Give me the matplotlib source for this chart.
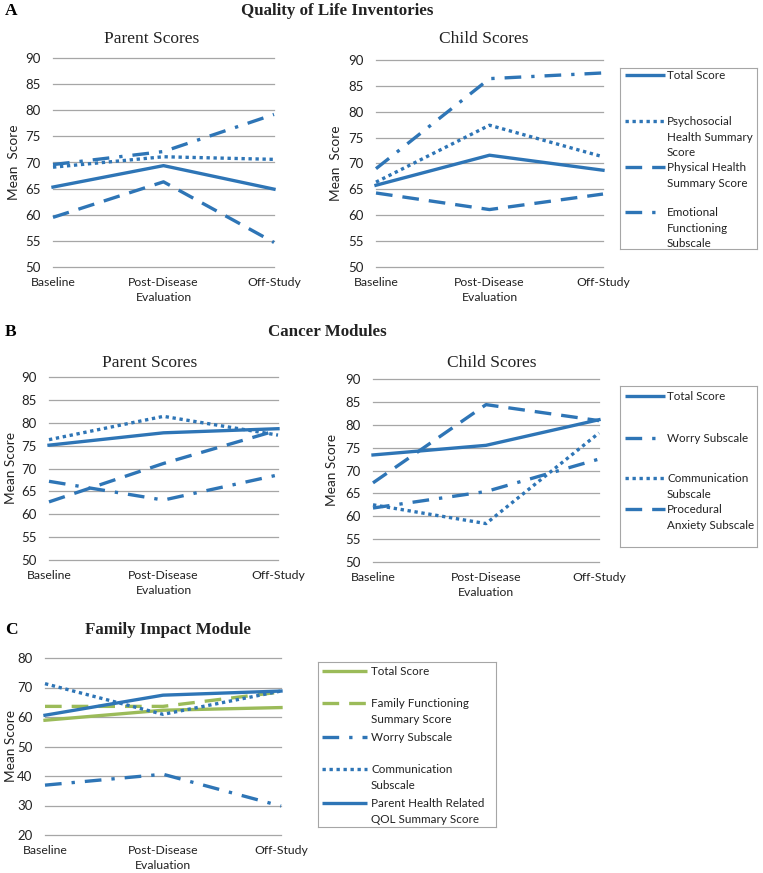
import matplotlib.pyplot as plt
import numpy as np

plt.rcParams['font.family'] = ['Lato', 'DejaVu Sans']

# categories along the x axis
categories = ['Baseline', 'Post-Disease\nEvaluation', 'Off-Study']

# A: Quality of Life Inventories
qol_parent_total = [65.3, 69.4, 64.9]
qol_parent_psychosocial = [69.1, 71.1, 70.6]
qol_parent_physical = [59.5, 66.3, 54.7]
qol_parent_emotional = [69.6, 72.1, 79.2]

qol_child_total = [65.8, 71.6, 68.7]
qol_child_psychosocial = [66.4, 77.4, 71.3]
qol_child_physical = [64.3, 61.1, 64.1]
qol_child_emotional = [69.0, 86.4, 87.5]

# B: Cancer Modules
cancer_parent_total = [75.1, 77.8, 78.7]
cancer_parent_worry = [67.2, 63.1, 68.6]
cancer_parent_communication = [76.3, 81.4, 77.3]
cancer_parent_procedural = [62.7, 71.1, 78.4]

cancer_child_total = [73.4, 75.5, 81.1]
cancer_child_worry = [61.8, 65.4, 72.5]
cancer_child_communication = [62.5, 58.4, 78.2]
cancer_child_procedural = [67.3, 84.4, 80.9]

# C: Family Impact Module
family_total = [58.9, 62.3, 63.2]
family_functioning = [63.6, 63.6, 68.5]
family_worry = [36.9, 40.6, 29.8]
family_communication = [71.3, 60.9, 68.8]
family_parent_hrqol = [60.6, 67.4, 68.8]

BLUE = '#2E75B6'
GREEN = '#9BBB59'
GRID = '#A6A6A6'
TXT = '#222222'
LW = 2.4

STYLES = {
    'solid': dict(linestyle='-'),
    'dot': dict(linestyle=(0, (1, 1.1))),
    'dash': dict(linestyle=(0, (5, 3))),
    'dashdot': dict(linestyle=(0, (5, 3, 1, 3))),
}

W, H = 763, 873
fig = plt.figure(figsize=(W / 100, H / 100), dpi=100)


def fx(x):
    return x / W


def fy(y):
    return 1 - y / H


def px_axes(x0, y0, x1, y1):
    return fig.add_axes([fx(x0), fy(y1), (x1 - x0) / W, (y1 - y0) / H])


def chart(box, yticks, ylabel, label_x):
    x0, y0, x1, y1 = box
    ax = px_axes(x0, y0, x1, y1)
    x = np.arange(len(categories))
    ax.set_xlim(x[0], x[-1])
    ax.set_ylim(yticks[0], yticks[-1])
    ax.set_yticks(yticks)
    ax.set_xticks(x)
    ax.set_xticklabels(categories, fontsize=8.8, color=TXT, linespacing=1.45)
    ax.tick_params(axis='y', length=0, pad=9, labelsize=9.5, labelcolor=TXT)
    ax.tick_params(axis='x', length=0, pad=7)
    for s in ax.spines.values():
        s.set_visible(False)
    ax.yaxis.grid(True, color=GRID, linewidth=0.9)
    ax.set_axisbelow(True)
    for gl in ax.get_ygridlines():
        gl.set_clip_on(False)
    ax.set_ylabel(ylabel, fontsize=9.8, color=TXT)
    ax.yaxis.set_label_coords((label_x + 7 - x0) / (x1 - x0), 0.5)
    return ax


def series(ax, values, style, color=BLUE):
    ax.plot(np.arange(len(values)), values, color=color, linewidth=LW,
            clip_on=False, **STYLES[style])


def legend_box(x0, y0, x1, y1, entries, hx0, hx1, tx, pitch):
    lg = px_axes(x0, y0, x1, y1)
    lg.set_xlim(0, x1 - x0)
    lg.set_ylim(y1 - y0, 0)
    lg.set_xticks([])
    lg.set_yticks([])
    for s in lg.spines.values():
        s.set_color('#A6A6A6')
        s.set_linewidth(0.8)
    for label, style, color, yc in entries:
        lg.plot([hx0, hx1], [yc, yc], color=color, linewidth=LW,
                solid_capstyle='butt', **STYLES[style])
        for i, line in enumerate(label.split('\n')):
            lg.text(tx, yc + i * pitch + 4.3, line, fontsize=8.4, va='baseline',
                    ha='left', color=TXT)


def title(x, y, s, bold=False, size=12.5):
    fig.text(fx(x), fy(y), s, fontsize=size, family='Liberation Serif',
             fontweight='bold' if bold else 'normal', ha='center', va='center', color=TXT)


yt = np.arange(50, 91, 5)

# ---- Panel A ----
fig.text(fx(5), fy(11), 'A', fontsize=12.5, fontweight='bold', family='Liberation Serif', va='center')
title(337, 11, 'Quality of Life Inventories', bold=True, size=12.2)

ax = chart((53, 58, 274, 267), yt, 'Mean  Score', 13)
series(ax, qol_parent_total, 'solid')
series(ax, qol_parent_psychosocial, 'dot')
series(ax, qol_parent_physical, 'dash')
series(ax, qol_parent_emotional, 'dashdot')
title(152, 39, 'Parent Scores')

ax = chart((376, 60, 603, 267), yt, 'Mean  Score', 335)
series(ax, qol_child_total, 'solid')
series(ax, qol_child_psychosocial, 'dot')
series(ax, qol_child_physical, 'dash')
series(ax, qol_child_emotional, 'dashdot')
title(484, 39, 'Child Scores')

legend_box(620, 68, 757, 249, [
    ('Total Score', 'solid', BLUE, 7),
    ('Psychosocial\nHealth Summary\nScore', 'dot', BLUE, 53),
    ('Physical Health\nSummary Score', 'dash', BLUE, 99),
    ('Emotional\nFunctioning\nSubscale', 'dashdot', BLUE, 144),
], 5, 45, 47, 15.4)

# ---- Panel B ----
fig.text(fx(5), fy(332), 'B', fontsize=12.5, fontweight='bold', family='Liberation Serif', va='center')
title(327, 332, 'Cancer Modules', bold=True, size=12.2)

ax = chart((49, 377, 278, 560), yt, 'Mean Score', 10)
series(ax, cancer_parent_total, 'solid')
series(ax, cancer_parent_worry, 'dashdot')
series(ax, cancer_parent_communication, 'dot')
series(ax, cancer_parent_procedural, 'dash')
title(150, 363, 'Parent Scores')

ax = chart((373, 379, 599, 562), yt, 'Mean Score', 331)
series(ax, cancer_child_total, 'solid')
series(ax, cancer_child_worry, 'dashdot')
series(ax, cancer_child_communication, 'dot')
series(ax, cancer_child_procedural, 'dash')
title(492, 363, 'Child Scores')

legend_box(620, 386, 757, 547, [
    ('Total Score', 'solid', BLUE, 10),
    ('Worry Subscale', 'dashdot', BLUE, 52),
    ('Communication\nSubscale', 'dot', BLUE, 92),
    ('Procedural\nAnxiety Subscale', 'dash', BLUE, 123),
], 5, 45, 47, 15.5)

# ---- Panel C ----
fig.text(fx(5), fy(630), 'C', fontsize=12.5, fontweight='bold', family='Liberation Serif', va='center')
title(168, 630, 'Family Impact Module', bold=True, size=12.2)

ax = chart((45, 658, 281, 835), np.arange(20, 81, 10), 'Mean Score', 10)
series(ax, family_total, 'solid', GREEN)
series(ax, family_functioning, 'dash', GREEN)
series(ax, family_worry, 'dashdot')
series(ax, family_communication, 'dot')
series(ax, family_parent_hrqol, 'solid')

legend_box(318, 662, 496, 827, [
    ('Total Score', 'solid', GREEN, 9),
    ('Family Functioning\nSummary Score', 'dash', GREEN, 41),
    ('Worry Subscale', 'dashdot', BLUE, 75),
    ('Communication\nSubscale', 'dot', BLUE, 107),
    ('Parent Health Related\nQOL Summary Score', 'solid', BLUE, 141),
], 4, 49, 53, 16)

fig.savefig('out.png', dpi=100)
